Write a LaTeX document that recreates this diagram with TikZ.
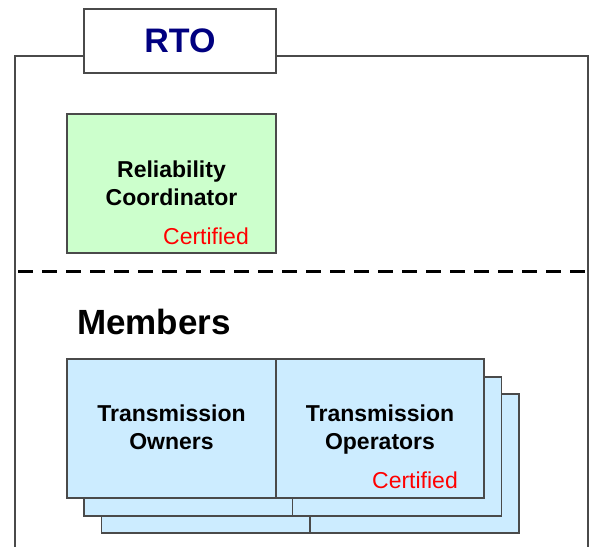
\documentclass[tikz,border=0pt]{standalone}
\usepackage{fontspec}
\setmainfont{Liberation Sans}
\definecolor{rtoblue}{HTML}{000080}
\definecolor{rcgreen}{HTML}{CCFFCC}
\definecolor{tblue}{HTML}{CCECFF}
\definecolor{edge}{HTML}{4A4A4A}
\begin{document}
\begin{tikzpicture}[x=1pt,y=-1pt,
  box/.style={draw=edge,line width=1.1pt,inner sep=0pt,outer sep=0pt},
  rcbox/.style={box,fill=rcgreen,minimum width=209pt,minimum height=139pt},
  tbox/.style={box,fill=tblue,minimum width=209pt,minimum height=139pt},
  tbox2/.style={box,fill=tblue,minimum width=208pt,minimum height=139pt},
  title/.style={font=\fontsize{23}{28}\selectfont\bfseries,align=center,inner sep=0pt},
  cert/.style={font=\fontsize{23}{28}\selectfont,text=red,inner sep=0pt,anchor=east}]
\useasboundingbox (0,0) rectangle (593,546);
\clip (0,0) rectangle (593,546);
\fill[white] (0,0) rectangle (593,546);
% outer frame
\coordinate (fbl) at (15,560);
\coordinate (ftl) at (15,56);
\coordinate (ftr) at (588,56);
\coordinate (fbr) at (588,560);
\draw[edge,line width=1.1pt] (fbl) -- (ftl) -- (ftr) -- (fbr);
% RTO tab
\node[box,fill=white,minimum width=192pt,minimum height=64pt] (rto) at (180,41) {};
\node[font=\fontsize{34}{40}\selectfont\bfseries,text=rtoblue,inner sep=0pt] (rtot) at (rto.center) {RTO};
% Reliability coordinator
\node[rcbox] (rc) at (171.5,183.5) {};
\node[title] (rct) at (171.5,183) {Reliability\\Coordinator};
\node[cert] (rcc) at (249,236) {Certified};
% dashed separator
\coordinate (dl) at (15,271.5);
\coordinate (dr) at (588,271.5);
\draw[black,line width=2.6pt,dash pattern=on 15pt off 9pt,dash phase=-3pt] (dl) -- (dr);
% Members
\node[font=\fontsize{35}{40}\selectfont\bfseries,anchor=west,inner sep=0pt] (mem) at (77,322) {Members};
% stacked boxes (back to front)
\node[tbox] (ow2) at (206,463.5) {};
\node[tbox] (op2) at (414.5,463.5) {};
\node[tbox] (ow1) at (188.5,446.5) {};
\node[tbox] (op1) at (397,446.5) {};
\node[tbox] (ow) at (171.5,428.5) {};
\node[tbox2] (op) at (380,428.5) {};
\node[title] (owt) at (171.5,427.5) {Transmission\\Owners};
\node[title] (opt) at (380,430) {Transmission\\Operators};
\node[cert] (opc) at (458,480) {Certified};
\end{tikzpicture}
\end{document}
